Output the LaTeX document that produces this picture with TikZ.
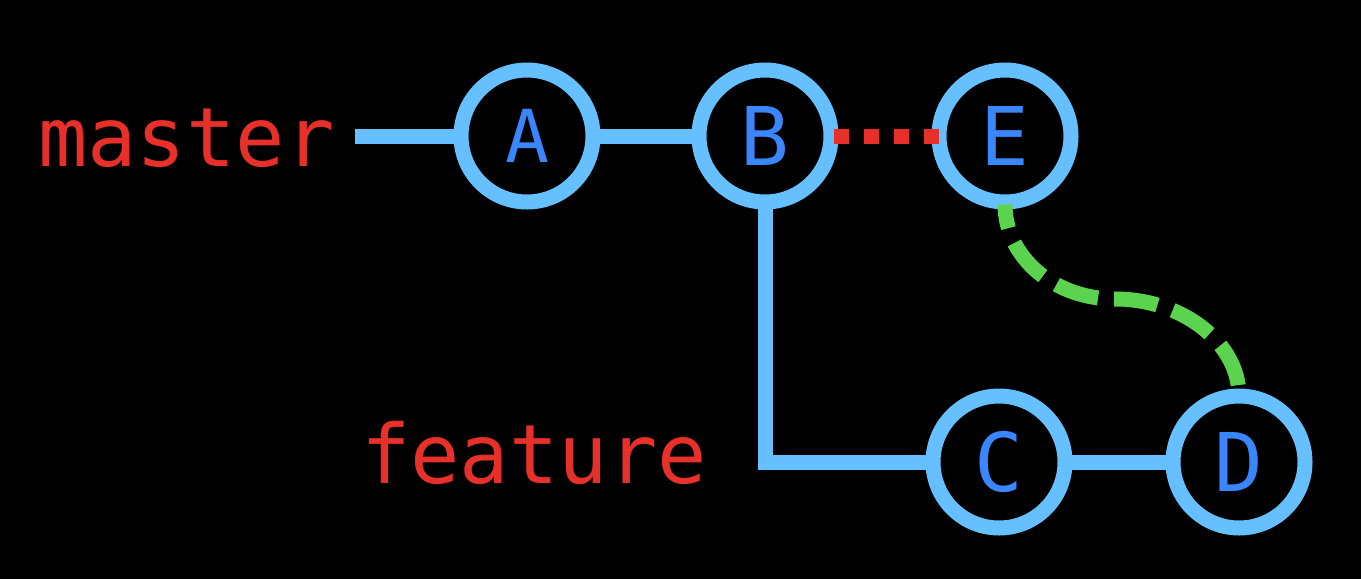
\documentclass[tikz,border=0pt]{standalone}
\usepackage{fontspec}
\newfontfamily\gitmono{DejaVu Sans Mono}
\definecolor{ringblue}{HTML}{66BFFF}
\definecolor{letterblue}{HTML}{3A86FF}
\definecolor{labelred}{HTML}{E8302A}
\definecolor{mergegreen}{HTML}{5BD34E}
\begin{document}
\begin{tikzpicture}[x=1pt,y=-1pt,
  commit/.style={circle,draw=ringblue,fill=black,line width=15pt,minimum size=132pt,inner sep=0pt,text=letterblue,font=\gitmono\fontsize{81}{81}\selectfont},
  branchlabel/.style={anchor=base west,inner sep=0pt,text=labelred,font=\gitmono\fontsize{82}{82}\selectfont},
  edge/.style={draw=ringblue,line width=15pt},
  rebase/.style={draw=labelred,line width=15pt,dash pattern=on 15pt off 15pt},
  merge/.style={draw=mergegreen,line width=15pt,dash pattern=on 44pt off 16pt,dash phase=20pt}]
\fill[black] (0,0) rectangle (1361,579);
\useasboundingbox (0,0) rectangle (1361,579);
\coordinate (m0) at (355,136);
\coordinate (corner) at (765,462);
\coordinate (mid) at (1115,299);
\path[edge] (m0) -- (527,136) -- (765,136) -- (corner) -- (999,462) -- (1239,462);
\node[commit,font=\gitmono\fontsize{73}{73}\selectfont] (A) at (527,136) {A};
\node[commit] (B) at (765,136) {B};
\node[commit] (E) at (1005,136) {E};
\node[commit] (C) at (999,462) {C};
\node[commit] (D) at (1239,462) {D};
\node[branchlabel] (master) at (38,166) {master};
\node[branchlabel] (feature) at (361,483) {feature};
\path[rebase] ([xshift=-4.5pt]B.east) -- ([xshift=7.5pt]E.west);
\path[merge] ([yshift=5pt]E.south) .. controls (1005,257) and (1054,299) .. (mid)
  .. controls (1183,299) and (1238,343) .. ([yshift=-6pt]D.north);
\end{tikzpicture}
\end{document}
